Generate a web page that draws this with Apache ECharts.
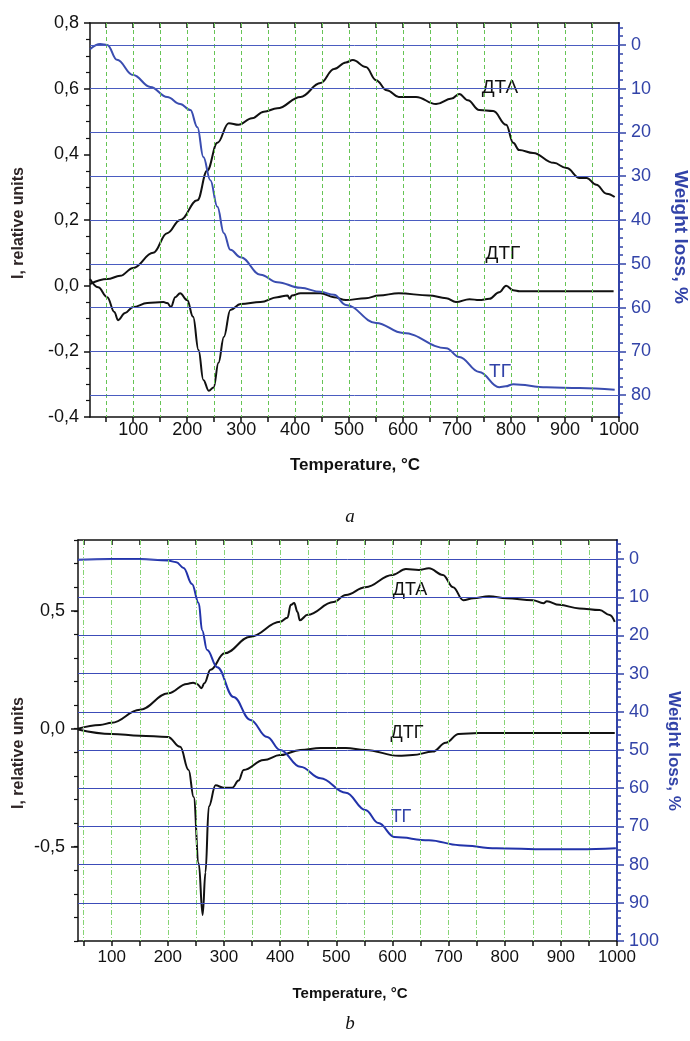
<!DOCTYPE html>
<html>
<head>
<meta charset="utf-8">
<script src="https://cdn.jsdelivr.net/npm/echarts@6/dist/echarts.min.js"></script>
<style>
  html, body { margin: 0; padding: 0; background: #fff; }
  #chart { width: 690px; height: 1041px; }
</style>
</head>
<body>
<div id="chart"></div>
<script>
// ---------- panel a ----------
const tempA_dta = [20, 52, 76, 100, 137, 163, 187, 219, 237, 256, 277, 295, 320, 342, 367, 410, 447, 472, 494, 507, 531, 550, 570, 592, 624, 661, 690, 704, 720, 741, 767, 791, 804, 815, 841, 879, 903, 927, 940, 958, 977, 992]
const dtaA = [0.005, 0.02, 0.03, 0.054, 0.10, 0.16, 0.2, 0.26, 0.35, 0.435, 0.495, 0.49, 0.51, 0.53, 0.54, 0.575, 0.617, 0.66, 0.68, 0.687, 0.666, 0.626, 0.595, 0.575, 0.575, 0.553, 0.57, 0.584, 0.565, 0.535, 0.532, 0.49, 0.435, 0.413, 0.404, 0.374, 0.358, 0.328, 0.328, 0.307, 0.28, 0.27]

const tempA_dtg = [20, 35, 52, 65, 72, 85, 100, 126, 156, 163, 170, 178, 187, 200, 211, 221, 230, 240, 249, 258, 268, 280, 299, 336, 367, 386, 390, 394, 410, 447, 472, 494, 531, 555, 592, 648, 680, 698, 723, 741, 760, 778, 791, 804, 816, 866, 990]
const dtgA = [0.02, -0.005, -0.035, -0.08, -0.105, -0.083, -0.065, -0.053, -0.05, -0.053, -0.065, -0.035, -0.023, -0.044, -0.095, -0.196, -0.287, -0.32, -0.31, -0.235, -0.156, -0.074, -0.056, -0.05, -0.035, -0.03, -0.04, -0.03, -0.023, -0.023, -0.035, -0.044, -0.038, -0.03, -0.023, -0.03, -0.038, -0.05, -0.041, -0.044, -0.04, -0.02, 0.0, -0.014, -0.017, -0.017, -0.017]

const tempA_tg = [20, 39, 52, 70, 100, 132, 163, 187, 206, 219, 230, 243, 256, 268, 280, 299, 336, 367, 410, 447, 472, 494, 550, 600, 680, 704, 741, 778, 790, 804, 866, 927, 992]
const tgA = [1.0, -0.2, 0, 3.4, 6.9, 9.6, 11.9, 13.5, 14.9, 18.8, 25.6, 30.9, 37, 43, 46.8, 48.5, 52.5, 54.2, 55.5, 56.4, 57.1, 59.4, 63.5, 65.8, 69.3, 71.3, 74.7, 78.2, 78, 77.5, 78.2, 78.4, 78.8]

// ---------- panel b ----------
const tempB_dta = [40, 79, 100, 150, 201, 234, 245, 252, 260, 265, 276, 301, 347, 400, 413, 419, 425, 431, 435, 449, 495, 517, 552, 600, 624, 647, 665, 690, 708, 726, 744, 772, 803, 850, 869, 875, 897, 933, 969, 987, 996]
const dtaB = [0.0, 0.016, 0.025, 0.08, 0.15, 0.19, 0.195, 0.19, 0.172, 0.193, 0.25, 0.32, 0.39, 0.453, 0.47, 0.525, 0.533, 0.495, 0.46, 0.483, 0.537, 0.567, 0.60, 0.652, 0.677, 0.673, 0.68, 0.652, 0.6, 0.545, 0.553, 0.562, 0.553, 0.545, 0.532, 0.54, 0.525, 0.51, 0.503, 0.482, 0.453]

const tempB_dtg = [40, 100, 150, 200, 222, 237, 246, 255, 262, 267, 273, 285, 299, 315, 326, 335, 371, 400, 436, 472, 517, 552, 611, 636, 672, 695, 718, 754, 814, 996]
const dtgB = [-0.003, -0.022, -0.03, -0.035, -0.077, -0.175, -0.29, -0.57, -0.79, -0.61, -0.33, -0.24, -0.25, -0.25, -0.22, -0.175, -0.133, -0.112, -0.09, -0.082, -0.082, -0.09, -0.115, -0.112, -0.097, -0.06, -0.022, -0.018, -0.018, -0.018]

const tempB_tg = [40, 100, 150, 200, 215, 228, 243, 255, 261, 270, 288, 317, 347, 377, 400, 436, 472, 517, 552, 575, 604, 665, 719, 785, 874, 933, 998]
const tgB = [0.2, 0, 0, 0.4, 0.8, 2.3, 6.5, 11.5, 18.6, 23.8, 28.3, 36.1, 42.1, 46.6, 50, 54.4, 57.4, 61.2, 65.7, 69.1, 72.8, 73.6, 74.9, 75.7, 76, 76, 75.7]

// ---------- ticks / grid values ----------
const tempTicks = [50, 100, 150, 200, 250, 300, 350, 400, 450, 500, 550, 600, 650, 700, 750, 800, 850, 900, 950, 1000]
const tempLabels = [100, 200, 300, 400, 500, 600, 700, 800, 900, 1000]
const tempGrid = [50, 100, 150, 200, 250, 300, 350, 400, 450, 500, 550, 600, 650, 700, 750, 800, 850, 900, 950]
const lossTicksA = [0, 10, 20, 30, 40, 50, 60, 70, 80]
const lossMinorA = [-4, -2, 0, 2, 4, 6, 8, 10, 12, 14, 16, 18, 20, 22, 24, 26, 28, 30, 32, 34, 36, 38, 40, 42, 44, 46, 48, 50, 52, 54, 56, 58, 60, 62, 64, 66, 68, 70, 72, 74, 76, 78, 80, 82, 84]
const lossTicksB = [0, 10, 20, 30, 40, 50, 60, 70, 80, 90, 100]
const lossGridB = [0, 10, 20, 30, 40, 50, 60, 70, 80, 90]
const lossMinorB = [-4, -2, 0, 2, 4, 6, 8, 10, 12, 14, 16, 18, 20, 22, 24, 26, 28, 30, 32, 34, 36, 38, 40, 42, 44, 46, 48, 50, 52, 54, 56, 58, 60, 62, 64, 66, 68, 70, 72, 74, 76, 78, 80, 82, 84, 86, 88, 90, 92, 94, 96, 98, 100]
const intTicksB = [-0.5, 0, 0.5]
const intMinorB = [-0.9, -0.8, -0.7, -0.6, -0.5, -0.4, -0.3, -0.2, -0.1, 0, 0.1, 0.2, 0.3, 0.4, 0.5, 0.6, 0.7, 0.8]

const FONT = "'Liberation Sans', Arial, sans-serif"
const BLUE = '#3243a8'
const zip = (xs, ys) => xs.map((x, i) => [x, ys[i]])
const comma = v => v.toFixed(1).replace('.', ',')

function tempAxis(grid, min, top, fs, margin) {
  return {
    type: 'value', gridIndex: grid, min: min, max: 1000,
    position: top ? 'top' : 'bottom',
    axisLine: { onZero: false, lineStyle: { color: '#111', width: 1.5 } },
    axisTick: { customValues: top ? tempGrid : tempTicks, inside: !!top, length: 5, lineStyle: { color: '#111', width: 1.5 } },
    axisLabel: top ? { show: false } : { customValues: tempLabels, color: '#111', fontSize: fs, fontFamily: FONT, margin: margin, formatter: v => String(v) },
    splitLine: { show: false }
  }
}

function lossAxis(grid, max, ticks, minor, isMinor, fs) {
  return {
    type: 'value', gridIndex: grid, position: 'right', min: -5, max: max, inverse: true,
    axisLine: { show: !isMinor, onZero: false, lineStyle: { color: BLUE, width: 2 } },
    axisTick: { customValues: isMinor ? minor : ticks, length: isMinor ? 4 : 7, lineStyle: { color: BLUE, width: 1.5 } },
    axisLabel: isMinor ? { show: false } : { customValues: ticks, color: BLUE, fontSize: fs, fontFamily: FONT, margin: 12 },
    splitLine: { show: false }
  }
}

function curve(x, y, data, color) {
  return {
    type: 'line', xAxisIndex: x, yAxisIndex: y, data: data, showSymbol: false,
    smooth: 0.4, smoothMonotone: 'x', z: 3,
    lineStyle: { color: color, width: 2 }
  }
}

// reference lines of the plot (blue = weight-loss steps, green = temperature steps)
function refLines(x, y, key, vals, color, type) {
  return {
    type: 'line', xAxisIndex: x, yAxisIndex: y, data: [], z: 1,
    color: color,
    markLine: {
      silent: true, symbol: ['none', 'none'], animation: false,
      label: { show: false },
      lineStyle: { color: color, width: 1, type: type, opacity: 1 },
      emphasis: { disabled: true },
      data: vals.map(v => ({ [key]: v }))
    }
  }
}

function txt(x, y, s, font, color, rot) {
  return {
    type: 'text', x: x, y: y, rotation: rot || 0,
    style: { text: s, font: font, fill: color, align: 'center', verticalAlign: 'middle' }
  }
}

const chart = echarts.init(document.getElementById('chart'))
chart.setOption({
  animation: false,
  backgroundColor: '#fff',
  grid: [
    { left: 90, top: 23, width: 529, height: 394 },
    { left: 78, top: 540, width: 539, height: 401 }
  ],
  xAxis: [
    tempAxis(0, 20, false, 18, 4),
    tempAxis(0, 20, true),
    tempAxis(1, 40, false, 17, 8),
    tempAxis(1, 40, true)
  ],
  yAxis: [
    {
      type: 'value', gridIndex: 0, position: 'left', min: -0.4, max: 0.8, interval: 0.2,
      axisLine: { onZero: false, lineStyle: { color: '#111', width: 1.5 } },
      axisTick: { length: 6, lineStyle: { color: '#111', width: 1.5 } },
      minorTick: { show: true, splitNumber: 4, length: 4, lineStyle: { color: '#111', width: 1.2 } },
      axisLabel: { color: '#111', fontSize: 18, fontFamily: FONT, margin: 11, formatter: comma },
      splitLine: { show: false }
    },
    lossAxis(0, 85, lossTicksA, null, false, 18),
    lossAxis(0, 85, null, lossMinorA, true),
    {
      type: 'value', gridIndex: 1, position: 'left', min: -0.9, max: 0.8,
      axisLine: { onZero: false, lineStyle: { color: '#111', width: 1.5 } },
      axisTick: { customValues: intTicksB, length: 7, lineStyle: { color: '#111', width: 1.5 } },
      axisLabel: { customValues: intTicksB, color: '#111', fontSize: 18, fontFamily: FONT, margin: 13, formatter: comma },
      splitLine: { show: false }
    },
    {
      type: 'value', gridIndex: 1, position: 'left', min: -0.9, max: 0.8,
      axisLine: { show: false, onZero: false },
      axisTick: { customValues: intMinorB, length: 4, lineStyle: { color: '#111', width: 1.2 } },
      axisLabel: { show: false },
      splitLine: { show: false }
    },
    lossAxis(1, 100, lossTicksB, null, false, 18),
    lossAxis(1, 100, null, lossMinorB, true)
  ],
  series: [
    refLines(0, 1, 'xAxis', tempGrid, '#66c455', [4, 3]),
    refLines(0, 1, 'yAxis', lossTicksA, '#4a5cc0', 'solid'),
    curve(0, 0, zip(tempA_dta, dtaA), '#111'),
    curve(0, 0, zip(tempA_dtg, dtgA), '#111'),
    curve(0, 1, zip(tempA_tg, tgA), '#3a4db0'),
    refLines(2, 5, 'xAxis', tempGrid, '#86d474', [5, 2, 1, 2]),
    refLines(2, 5, 'yAxis', lossGridB, '#3c4cb8', 'solid'),
    curve(2, 3, zip(tempB_dta, dtaB), '#111'),
    curve(2, 3, zip(tempB_dtg, dtgB), '#111'),
    curve(2, 5, zip(tempB_tg, tgB), '#2233aa')
  ],
  graphic: [
    txt(500, 88, 'ДТА', '19px ' + FONT, '#111'),
    txt(503, 254, 'ДТГ', '19px ' + FONT, '#111'),
    txt(500, 372, 'ТГ', '19px ' + FONT, BLUE),
    txt(410, 590, 'ДТА', '18px ' + FONT, '#111'),
    txt(407, 733, 'ДТГ', '18px ' + FONT, '#111'),
    txt(401, 817, 'ТГ', '18px ' + FONT, BLUE),
    txt(355, 465, 'Temperature, °C', 'bold 17px ' + FONT, '#111'),
    txt(350, 994, 'Temperature, °C', 'bold 15px ' + FONT, '#111'),
    txt(19, 223, 'I, relative units', 'bold 16px ' + FONT, '#2e2526', Math.PI / 2),
    txt(19, 753, 'I, relative units', 'bold 16px ' + FONT, '#2e2526', Math.PI / 2),
    txt(680, 237, 'Weight loss, %', 'bold 19px ' + FONT, BLUE, -Math.PI / 2),
    txt(674, 751, 'Weight loss, %', 'bold 17px ' + FONT, BLUE, -Math.PI / 2),
    txt(350, 517, 'a', 'italic 19px "Liberation Serif", "DejaVu Serif", serif', '#111'),
    txt(350, 1024, 'b', 'italic 19px "Liberation Serif", "DejaVu Serif", serif', '#111')
  ]
})
</script>
</body>
</html>
